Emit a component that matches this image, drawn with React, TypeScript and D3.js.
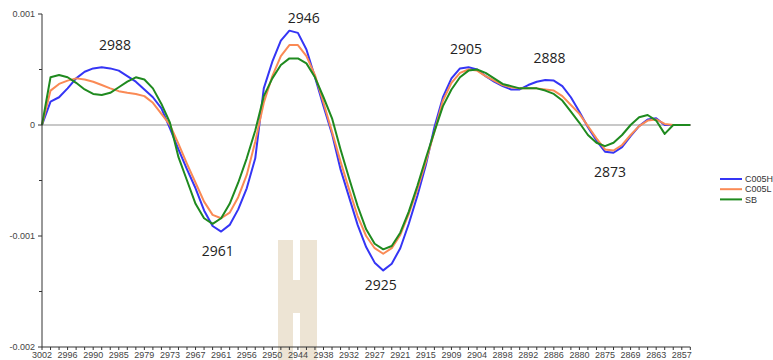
import React from "react";
import * as d3 from "d3";

// values in units of 1e-3 (absorbance derivative)
const C005H_m = [
  0, 0.21, 0.25, 0.33, 0.42, 0.48, 0.51, 0.52, 0.51, 0.49,
  0.44, 0.39, 0.32, 0.25, 0.15, -0.03, -0.22, -0.40, -0.57, -0.77,
  -0.91, -0.96, -0.90, -0.76, -0.57, -0.30, 0.33, 0.57, 0.76, 0.85,
  0.83, 0.68, 0.43, 0.17, -0.08, -0.40, -0.65, -0.90, -1.10, -1.24,
  -1.31, -1.25, -1.11, -0.89, -0.64, -0.36, -0.02, 0.25, 0.42, 0.51,
  0.52, 0.50, 0.44, 0.39, 0.35, 0.32, 0.32, 0.36, 0.39, 0.405,
  0.40, 0.35, 0.25, 0.12, -0.02, -0.14, -0.24, -0.25, -0.20, -0.10,
  -0.01, 0.05, 0.06, 0.0, 0, 0, 0,
];
const C005L_m = [
  0, 0.31, 0.37, 0.40, 0.42, 0.41, 0.39, 0.36, 0.33, 0.305,
  0.29, 0.28, 0.26, 0.20, 0.10, 0.0, -0.17, -0.35, -0.52, -0.69,
  -0.81, -0.84, -0.79, -0.65, -0.45, -0.15, 0.20, 0.44, 0.62, 0.72,
  0.72, 0.62, 0.45, 0.20, -0.06, -0.33, -0.58, -0.82, -1.00, -1.11,
  -1.16, -1.11, -0.99, -0.80, -0.58, -0.33, -0.06, 0.22, 0.38, 0.47,
  0.50, 0.49, 0.44, 0.40, 0.36, 0.34, 0.33, 0.33, 0.33, 0.32,
  0.31, 0.26, 0.18, 0.10, -0.01, -0.12, -0.22, -0.23, -0.18, -0.09,
  -0.01, 0.04, 0.05, 0.01, 0, 0, 0,
];
const SB_m = [
  0, 0.43, 0.45, 0.43, 0.38, 0.32, 0.28, 0.27, 0.29, 0.34,
  0.39, 0.43, 0.41, 0.33, 0.19, 0.02, -0.29, -0.50, -0.71, -0.84,
  -0.89, -0.84, -0.71, -0.52, -0.30, -0.05, 0.26, 0.42, 0.54, 0.60,
  0.60, 0.555, 0.43, 0.25, 0.06, -0.22, -0.48, -0.73, -0.94, -1.07,
  -1.12, -1.09, -0.97, -0.78, -0.55, -0.30, -0.06, 0.17, 0.32, 0.43,
  0.49, 0.50, 0.47, 0.42, 0.37, 0.35, 0.33, 0.33, 0.33, 0.31,
  0.28, 0.22, 0.12, 0.02, -0.09, -0.16, -0.19, -0.16, -0.09, 0.0,
  0.07, 0.09, 0.04, -0.08, 0, 0, 0,
];

const SERIES_NAMES = ["C005H", "C005L", "SB"];
const SERIES_COLORS = ["#3535f5", "#fa8a55", "#1f8a1f"];

const X_TICK_LABELS = [
  "3002", "2996", "2990", "2985", "2979", "2973", "2967", "2961", "2956",
  "2950", "2944", "2938", "2932", "2927", "2921", "2915", "2909", "2904",
  "2898", "2892", "2886", "2880", "2875", "2869", "2863", "2857",
];
const Y_TICKS = [0.001, 0, -0.001, -0.002];
const Y_TICK_LABELS = ["0.001", "0", "-0.001", "-0.002"];
const Y_MINOR = [0.0005, -0.0005, -0.0015];

// peak annotations: label, point index, value
const PEAK_LABELS = ["2988", "2946", "2961", "2925", "2905", "2888", "2873"];
const PEAK_INDEX = [8.55, 30.7, 20.6, 39.7, 49.7, 59.5, 66.6];
const PEAK_VALUE = [0.00068, 0.00092, -0.00118, -0.00149, 0.00064, 0.00056, -0.00047];

const N = C005H_m.length;

export default function App() {
  const W = 773, H = 360;
  const x0 = 42, x1 = 690.3, yTop = 14, yBot = 347;
  const x = d3.scaleLinear().domain([0, N - 1]).range([x0, x1]);
  const y = d3.scaleLinear().domain([-0.002, 0.001]).range([yBot, yTop]);
  const series = [C005H_m, C005L_m, SB_m].map((arr) => arr.map((v) => v * 1e-3));
  const line = d3
    .line<number>()
    .x((_, i) => x(i))
    .y((v) => y(v));
  const axisFont = "'Liberation Sans', Arial, sans-serif";
  const annFont = "'Open Sans', 'Noto Sans', sans-serif";
  const wm = "#ede4d4";

  return (
    <svg
      width={W}
      height={H}
      style={{ position: "fixed", left: 0, top: 0, background: "#fff" }}
    >
      <rect width={W} height={H} fill="#fff" />
      {/* watermark */}
      <path
        d="M278,240 H293 V280 H300 V240 H317 V360 H300 V313 H293 V360 H278 Z"
        fill={wm}
      />
      {/* zero line */}
      <line x1={x0} x2={x1} y1={y(0)} y2={y(0)} stroke="#c8c8c8" strokeWidth={2} />
      {/* series */}
      {series.map((s, k) => (
        <path
          key={SERIES_NAMES[k]}
          d={line(s) || ""}
          fill="none"
          stroke={SERIES_COLORS[k]}
          strokeWidth={2}
          strokeLinejoin="round"
        />
      ))}
      {/* y axis */}
      <line x1={x0} x2={x0} y1={yTop} y2={yBot} stroke="#333" strokeWidth={1} />
      {Y_TICKS.map((t, i) => (
        <g key={"yt" + i}>
          <line x1={x0 - 4} x2={x0} y1={y(t)} y2={y(t)} stroke="#333" />
          <text
            x={x0 - 7}
            y={y(t) + 3}
            textAnchor="end"
            fontSize={9}
            fill="#444"
            fontFamily={axisFont}
          >
            {Y_TICK_LABELS[i]}
          </text>
        </g>
      ))}
      {Y_MINOR.map((t, i) => (
        <line key={"ym" + i} x1={x0 - 3} x2={x0} y1={y(t)} y2={y(t)} stroke="#333" />
      ))}
      {/* x axis */}
      <line x1={x0} x2={x1} y1={yBot} y2={yBot} stroke="#333" strokeWidth={1} />
      {d3.range(N).map((i) => (
        <line key={"xt" + i} x1={x(i)} x2={x(i)} y1={yBot} y2={yBot + 3} stroke="#333" />
      ))}
      {X_TICK_LABELS.map((lab, k) => (
        <text
          key={"xl" + k}
          x={x(k * 3)}
          y={358}
          textAnchor="middle"
          fontSize={9}
          fill="#444"
          fontFamily={axisFont}
        >
          {lab}
        </text>
      ))}
      {/* annotations */}
      {PEAK_LABELS.map((lab, k) => (
        <text
          key={"pk" + k}
          x={x(PEAK_INDEX[k])}
          y={y(PEAK_VALUE[k])}
          textAnchor="middle"
          fontSize={14}
          fill="#222"
          fontFamily={annFont}
        >
          {lab}
        </text>
      ))}
      {/* legend */}
      {SERIES_NAMES.map((nm, k) => (
        <g key={"lg" + k} transform={`translate(720, ${179 + k * 10.2})`}>
          <line x1={0} x2={22} y1={0} y2={0} stroke={SERIES_COLORS[k]} strokeWidth={2} />
          <text x={25} y={3.2} fontSize={9} fill="#333" fontFamily={axisFont}>
            {nm}
          </text>
        </g>
      ))}
    </svg>
  );
}
